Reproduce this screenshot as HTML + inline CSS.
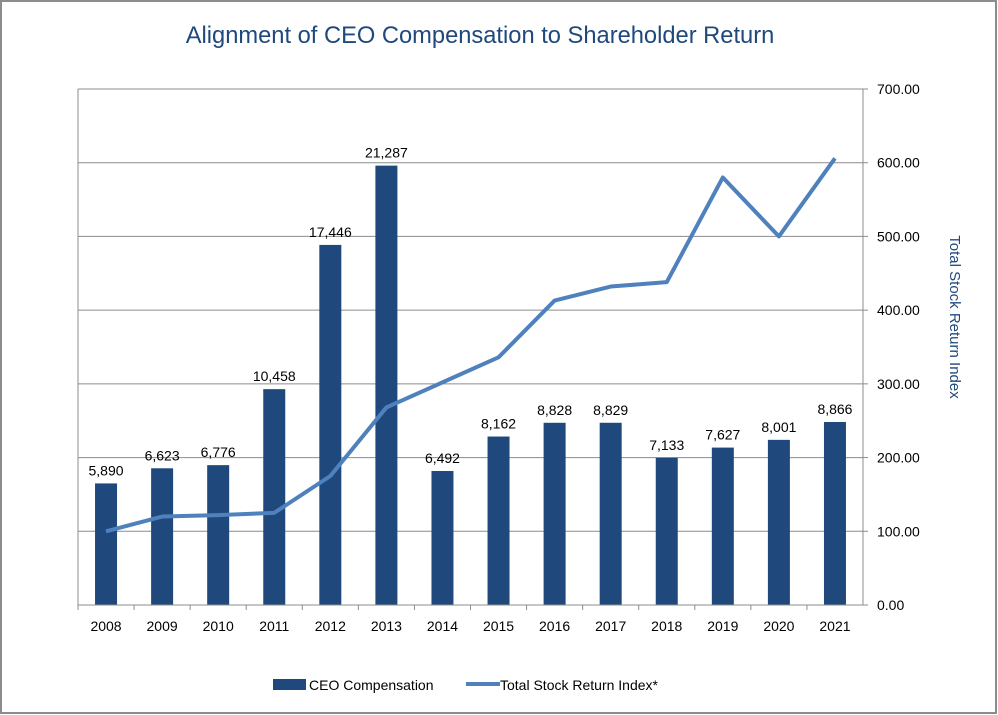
<!DOCTYPE html>
<html><head><meta charset="utf-8"><style>
body{margin:0;background:#fff;}
svg{display:block;font-family:"Liberation Sans",sans-serif;}
</style></head><body>
<svg id="chart" width="998" height="715">
<rect x="1" y="1" width="995" height="712" fill="#fff" stroke="#8c8c8c" stroke-width="2"/>
<text x="480" y="43" text-anchor="middle" font-size="23.7" fill="#1f497d">Alignment of CEO Compensation to Shareholder Return</text>
<g id="grid"></g><g id="bars"></g><g id="line"></g><g id="axes"></g>
<text transform="translate(950,317) rotate(90)" text-anchor="middle" font-size="15" fill="#1f497d">Total Stock Return Index</text>
<rect x="273" y="679" width="33" height="11" fill="#1f497d"/>
<text x="309" y="690" font-size="14" fill="#000">CEO Compensation</text>
<rect x="466" y="682" width="34" height="4" fill="#4f81bd"/>
<text x="500" y="690" font-size="14" fill="#000">Total Stock Return Index*</text>
</svg>
<script>
const years=["2008","2009","2010","2011","2012","2013","2014","2015","2016","2017","2018","2019","2020","2021"];
const comp=[5890,6623,6776,10458,17446,21287,6492,8162,8828,8829,7133,7627,8001,8866];
const tsr=[100,120,122,125,175,268,302,336,413,432,438,580,500,606];
const rightTicks=[0,100,200,300,400,500,600,700];
const L=78,R=863,T=89,B=605,compMax=25000,tsrMax=700;
const NS="http://www.w3.org/2000/svg";
const band=(R-L)/years.length;
const xc=i=>L+band*(i+0.5);
const yc=v=>B-(B-T)*v/compMax;
const yt=v=>B-(B-T)*v/tsrMax;
function mk(tag,attrs,parent,txt){const e=document.createElementNS(NS,tag);for(const k in attrs)e.setAttribute(k,attrs[k]);if(txt!==undefined)e.textContent=txt;document.getElementById(parent).appendChild(e);return e;}
rightTicks.forEach(t=>{
 const y=yt(t);
 if(t>0){const g=mk('line',{x1:L,x2:R,y1:y,y2:y,stroke:'#8c8c8c','stroke-width':1},'grid');
 
 }
 const tk=mk('line',{x1:R,x2:R+5,y1:y,y2:y,stroke:'#8c8c8c'},'axes');
 
 
 const lb=mk('text',{x:R+14,y:y+5,'font-size':14,fill:'#000'},'axes',t.toFixed(2));
 
 
});
const la=mk('line',{x1:L,x2:L,y1:T,y2:B,stroke:'#8c8c8c'},'axes');


const ra=mk('line',{x1:R,x2:R,y1:T,y2:B,stroke:'#8c8c8c'},'axes');


const xa=mk('line',{x1:L,x2:R,y1:B,y2:B,stroke:'#8c8c8c'},'axes');


years.forEach((yr,i)=>{
 const x0=L+band*i;
 const tk=mk('line',{x1:x0,x2:x0,y1:B,y2:B+5,stroke:'#8c8c8c'},'axes');
 
 
 const lb=mk('text',{x:xc(i),y:B+26,'text-anchor':'middle','font-size':14,fill:'#000'},'axes',yr);
 
 
 const y=yc(comp[i]);
 const b=mk('rect',{x:xc(i)-11,y:y,width:22,height:B-y,fill:'#1f497d'},'bars');
 
 
 const v=mk('text',{x:xc(i),y:y-8,'text-anchor':'middle','font-size':14,fill:'#000'},'bars',comp[i].toLocaleString('en-US'));
 
 
});
const pts=tsr.map((v,i)=>xc(i)+','+yt(v)).join(' ');
const pl=mk('polyline',{points:pts,fill:'none',stroke:'#4f81bd','stroke-width':4,'stroke-linejoin':'round'},'line');


</script>
</body></html>
